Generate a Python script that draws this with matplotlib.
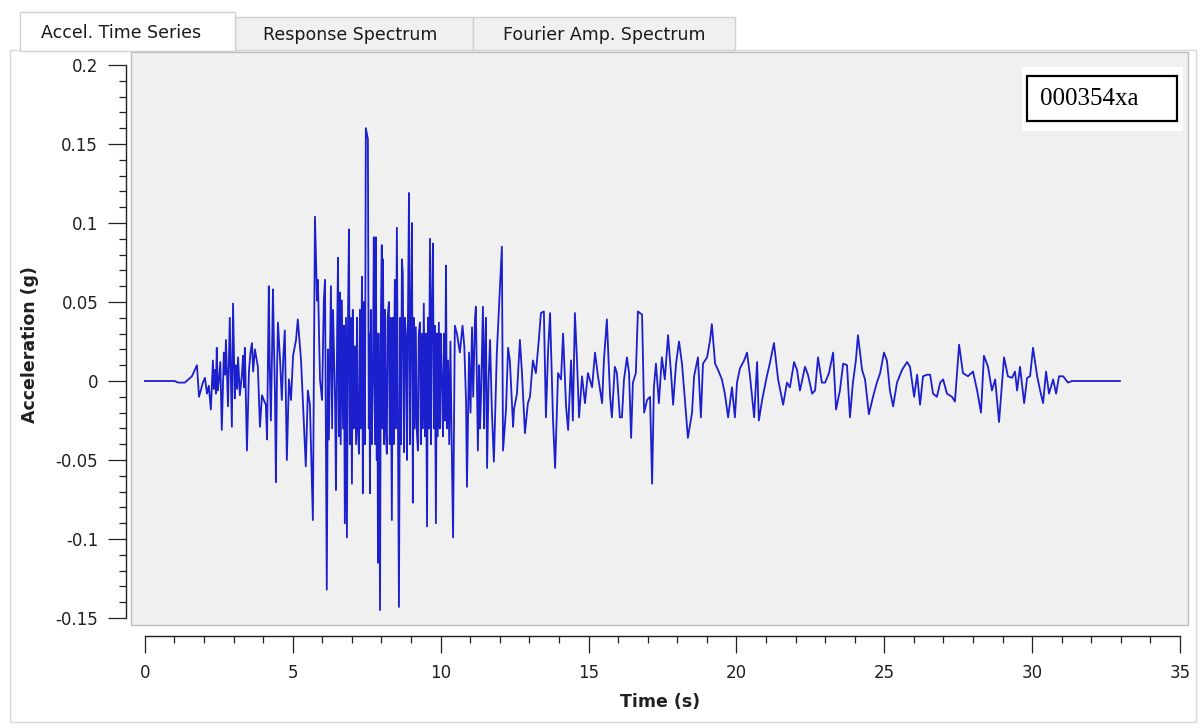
import matplotlib
matplotlib.use('Agg')
import matplotlib.pyplot as pl
from matplotlib.patches import Rectangle
from matplotlib.ticker import MultipleLocator
import numpy as np


# record 000354xa, (time s, accel g)
seg_onset = [
    (0.00, 0.000), (1.01, 0.000), (1.12, -0.001), (1.35, -0.001), (1.59, 0.003),
    (1.76, 0.010), (1.83, -0.010), (1.96, -0.001), (2.03, 0.002), (2.10, -0.008),
    (2.16, -0.003), (2.23, -0.018), (2.30, 0.013), (2.33, -0.005), (2.37, 0.007),
    (2.40, -0.008), (2.43, 0.021), (2.46, -0.006), (2.50, 0.000), (2.55, 0.012),
    (2.60, -0.031), (2.67, 0.018), (2.71, 0.004), (2.74, 0.026), (2.81, -0.016),
    (2.87, 0.040), (2.94, -0.029), (2.98, 0.049), (3.04, -0.011), (3.08, 0.010),
    (3.12, -0.005), (3.15, 0.015), (3.21, -0.009), (3.28, 0.004), (3.32, 0.016),
    (3.35, -0.004), (3.38, 0.021), (3.45, -0.044), (3.52, 0.007), (3.57, 0.018),
    (3.62, 0.024), (3.66, 0.006), (3.69, 0.013), (3.72, 0.020), (3.82, 0.009),
    (3.89, -0.029), (3.96, -0.009), (4.02, -0.012), (4.09, -0.015), (4.13, -0.037),
    (4.19, 0.060), (4.22, 0.010), (4.26, -0.025), (4.30, 0.020), (4.33, 0.058),
    (4.36, 0.026), (4.40, -0.010), (4.43, -0.064), (4.47, 0.010), (4.50, 0.037),
    (4.57, 0.013), (4.63, -0.012), (4.68, 0.015), (4.73, 0.032), (4.80, -0.050),
    (4.87, 0.001), (4.94, -0.012), (5.01, 0.016), (5.11, 0.026), (5.17, 0.039),
    (5.28, 0.013), (5.34, -0.012), (5.44, -0.054), (5.51, -0.006), (5.58, -0.015),
    (5.68, -0.088), (5.75, 0.104), (5.82, 0.051), (5.85, 0.064),
]

seg_strong = [
    (5.92, 0.001), (5.99, -0.012), (6.05, 0.051), (6.09, 0.064), (6.15, -0.132),
    (6.19, 0.020), (6.22, -0.037), (6.29, 0.060), (6.33, -0.030), (6.36, 0.045),
    (6.43, -0.012), (6.46, -0.069), (6.50, 0.030), (6.53, 0.078), (6.56, -0.035),
    (6.59, 0.056), (6.62, -0.040), (6.66, 0.051), (6.70, -0.030), (6.73, 0.035),
    (6.76, -0.090), (6.80, 0.040), (6.83, -0.099), (6.87, 0.045), (6.90, 0.096),
    (6.93, -0.040), (6.96, 0.040), (7.00, -0.065), (7.03, 0.045), (7.06, -0.030),
    (7.10, 0.022), (7.14, -0.040), (7.17, 0.040), (7.20, -0.030), (7.24, -0.046),
    (7.27, 0.045), (7.30, -0.030), (7.34, 0.066), (7.37, -0.071), (7.40, 0.050),
    (7.44, -0.040), (7.47, 0.160), (7.54, 0.153), (7.57, -0.030), (7.59, 0.030),
    (7.61, -0.071), (7.64, 0.045), (7.67, -0.040), (7.71, 0.005), (7.74, 0.091),
    (7.78, -0.040), (7.81, 0.091), (7.84, -0.050), (7.86, 0.030), (7.88, -0.115),
    (7.91, 0.030), (7.95, -0.145), (7.98, 0.040), (8.01, 0.086), (8.03, -0.030),
    (8.05, 0.077), (8.09, -0.040), (8.12, 0.045), (8.15, -0.030), (8.18, -0.046),
    (8.21, 0.040), (8.25, 0.050), (8.28, -0.040), (8.31, 0.040), (8.35, -0.088),
    (8.38, 0.040), (8.41, -0.040), (8.45, 0.064), (8.48, -0.030), (8.52, 0.097),
    (8.59, -0.143), (8.63, 0.040), (8.66, -0.040), (8.69, 0.077), (8.72, 0.068),
    (8.76, -0.045), (8.79, 0.040), (8.83, 0.028), (8.86, -0.050), (8.89, 0.030),
    (8.93, 0.119), (8.96, -0.040), (8.99, 0.030), (9.03, 0.100), (9.06, -0.077),
    (9.09, 0.040), (9.12, -0.030), (9.16, 0.034), (9.19, -0.030), (9.23, -0.044),
    (9.26, 0.030), (9.30, 0.037), (9.33, -0.040), (9.36, 0.030), (9.40, -0.030),
    (9.43, 0.049), (9.47, -0.035), (9.50, 0.030), (9.54, -0.092), (9.57, 0.040),
    (9.60, -0.030), (9.64, 0.090), (9.67, -0.040), (9.70, 0.040), (9.74, 0.087),
    (9.77, -0.030), (9.80, 0.035), (9.84, -0.090), (9.87, 0.030), (9.90, -0.035),
    (9.94, 0.037), (9.97, -0.030), (10.00, 0.030), (10.04, 0.001), (10.08, -0.035),
    (10.11, 0.030), (10.15, -0.025), (10.18, 0.073), (10.21, -0.030), (10.25, 0.013),
    (10.29, -0.040), (10.33, 0.025), (10.37, -0.035), (10.42, -0.099), (10.48, 0.035),
    (10.55, 0.030),
]

seg_mid = [
    (10.65, 0.018), (10.74, 0.035), (10.80, 0.022), (10.86, -0.014), (10.89, -0.067),
    (10.96, 0.018), (11.01, -0.020), (11.06, 0.034), (11.10, -0.010), (11.16, 0.039),
    (11.19, 0.047), (11.26, -0.044), (11.30, 0.010), (11.33, -0.030), (11.36, -0.014),
    (11.43, 0.047), (11.47, -0.030), (11.50, 0.020), (11.53, 0.040), (11.57, -0.055),
    (11.62, 0.000), (11.67, 0.026), (11.73, -0.018), (11.80, -0.051), (11.90, 0.018),
    (11.97, 0.045), (12.07, 0.085), (12.11, -0.044), (12.21, -0.018), (12.28, 0.021),
    (12.34, 0.013), (12.45, -0.029), (12.48, -0.018), (12.58, -0.008), (12.68, 0.026),
    (12.75, 0.005), (12.85, -0.033), (12.95, -0.014), (13.02, -0.010), (13.12, 0.013),
    (13.22, 0.005), (13.32, 0.026), (13.39, 0.043), (13.49, 0.044), (13.56, -0.023),
    (13.63, 0.018), (13.70, 0.043), (13.80, -0.025), (13.87, -0.055), (13.97, 0.005),
    (14.07, 0.001), (14.14, 0.030), (14.24, -0.016), (14.31, -0.031), (14.41, 0.013),
    (14.47, -0.025), (14.54, 0.043), (14.61, 0.013), (14.68, -0.023), (14.78, 0.003),
    (14.88, -0.014), (14.98, 0.005), (15.12, -0.004), (15.22, 0.018), (15.32, 0.003),
    (15.46, -0.014), (15.52, 0.013), (15.62, 0.039),
]

seg_late = [
    (15.73, -0.010), (15.79, -0.023), (15.89, 0.009), (15.96, 0.005), (16.06, -0.023),
    (16.13, -0.023), (16.20, 0.001), (16.30, 0.015), (16.37, 0.005), (16.44, -0.036),
    (16.50, -0.001), (16.60, 0.005), (16.67, 0.044), (16.81, 0.042), (16.88, -0.020),
    (16.98, -0.012), (17.08, -0.010), (17.15, -0.065), (17.21, -0.004), (17.28, 0.011),
    (17.38, -0.014), (17.48, 0.015), (17.58, 0.001), (17.69, 0.029), (17.79, 0.005),
    (17.86, -0.015), (17.96, 0.011), (18.06, 0.025), (18.16, 0.011), (18.26, -0.012),
    (18.36, -0.036), (18.50, -0.020), (18.57, 0.003), (18.70, 0.015), (18.80, -0.023),
    (18.87, 0.011), (19.01, 0.015), (19.11, 0.026), (19.17, 0.036), (19.28, 0.011),
    (19.38, 0.007), (19.51, 0.001), (19.61, -0.008), (19.72, -0.023), (19.85, -0.004),
    (19.95, -0.023), (20.02, -0.001), (20.12, 0.008), (20.26, 0.013), (20.36, 0.018),
    (20.46, 0.003), (20.60, -0.023), (20.70, 0.012), (20.76, -0.025), (20.87, -0.012),
    (21.03, 0.003), (21.14, 0.012),
]

seg_coda = [
    (21.27, 0.024), (21.41, 0.001), (21.58, -0.015), (21.71, -0.001), (21.81, -0.004),
    (21.95, 0.012), (22.05, 0.007), (22.15, -0.006), (22.32, 0.009), (22.42, 0.004),
    (22.56, -0.008), (22.66, -0.006), (22.76, 0.015), (22.89, -0.001), (23.00, -0.001),
    (23.13, 0.005), (23.27, 0.018), (23.37, -0.018), (23.50, -0.006), (23.61, 0.011),
    (23.74, 0.010), (23.84, -0.023), (23.94, -0.001), (24.04, 0.013), (24.11, 0.029),
    (24.25, 0.007), (24.35, 0.001), (24.48, -0.021), (24.62, -0.010), (24.75, -0.001),
    (24.86, 0.005), (24.99, 0.018), (25.09, 0.013), (25.19, -0.006), (25.30, -0.016),
    (25.43, -0.001), (25.60, 0.007), (25.77, 0.012), (25.87, 0.009), (26.01, -0.010),
    (26.11, 0.004), (26.21, -0.015), (26.31, 0.003), (26.45, 0.004), (26.55, 0.004),
    (26.65, -0.008), (26.78, -0.010), (26.89, -0.001), (26.99, 0.001), (27.12, -0.008),
    (27.29, -0.010), (27.39, -0.013), (27.53, 0.023), (27.66, 0.005), (27.83, 0.003),
    (28.00, 0.006), (28.14, -0.006), (28.27, -0.020), (28.37, 0.016), (28.51, 0.009),
    (28.64, -0.006), (28.75, 0.001), (28.88, -0.026), (29.05, 0.015), (29.18, 0.003),
    (29.32, 0.002), (29.42, 0.006), (29.49, -0.006), (29.59, 0.009), (29.73, -0.014),
    (29.83, 0.002), (29.93, 0.003), (30.03, 0.021), (30.17, 0.003), (30.27, -0.006),
    (30.37, -0.014), (30.47, 0.006), (30.57, -0.008), (30.71, 0.001), (30.81, -0.008),
    (30.91, 0.003), (31.05, 0.003), (31.21, -0.001), (31.35, 0.000), (32.97, 0.000),
]

tabs = ['Accel. Time Series', 'Response Spectrum', 'Fourier Amp. Spectrum']
yticks = [-0.15, -0.1, -0.05, 0, 0.05, 0.1, 0.15, 0.2]
yticklabels = ['-0.15', '-0.1', '-0.05', '0', '0.05', '0.1', '0.15', '0.2']
xticks = [0, 5, 10, 15, 20, 25, 30, 35]
record_id = '000354xa'


rows = seg_onset + seg_strong + seg_mid + seg_late + seg_coda
t = np.array([r[0] for r in rows])
acc = np.array([r[1] for r in rows])

W, H = 1203, 728
fig = pl.figure(figsize=(W/100., H/100.), dpi=100)
fig.patch.set_facecolor('white')


def box(x0, y0, x1, y1, **kw):
    # rectangle given in screen pixels (top-left origin)
    r = Rectangle((x0/W, 1-y1/H), (x1-x0)/W, (y1-y0)/H,
                  transform=fig.transFigure, **kw)
    fig.add_artist(r)
    return r


# window panel + tab strip
box(10, 50, 1196, 722, facecolor='white', edgecolor='#d6d6d6', lw=1, zorder=-2)
box(235, 17, 473, 50, facecolor='#f0f0f0', edgecolor='#d0d0d0', lw=1, zorder=1)
box(473, 17, 735, 50, facecolor='#f0f0f0', edgecolor='#d0d0d0', lw=1, zorder=1)
box(20, 12, 235, 51, facecolor='white', edgecolor='#d0d0d0', lw=1, zorder=2)
tab_x = [121, 350, 604]
tab_y = [33, 35, 35]
for lab, tx, ty in zip(tabs, tab_x, tab_y):
    fig.text(tx/W, 1-ty/H, lab, ha='center', va='center', fontsize=12.5,
             color='#1a1a1a', zorder=3)


ax = fig.add_axes([131./W, 1-625./H, (1188.-131)/W, (625.-52)/H])
ax.set_facecolor('#f0f0f0')
ax.plot(t, acc, color='#1c1fcc', lw=1.3)

ax.set_xlim(-0.47, 35.27)
ax.set_ylim(-0.1544, 0.2082)

ax.spines['top'].set_visible(False)
ax.spines['right'].set_visible(False)
ax.spines['left'].set_position(('outward', 3.6))
ax.spines['bottom'].set_position(('outward', 7.9))
ax.spines['left'].set_bounds(-0.15, 0.2)
ax.spines['bottom'].set_bounds(0, 35)
for s in ['left', 'bottom']:
    ax.spines[s].set_linewidth(1.0)
    ax.spines[s].set_color('#202020')

# thin frame round the grey plot area
ax.add_patch(Rectangle((0, 0), 1, 1, transform=ax.transAxes, fill=False,
                       edgecolor='#bdbdbd', lw=1.0, clip_on=False))

ax.set_yticks(yticks)
ax.set_yticklabels(yticklabels)
ax.set_xticks(xticks)
ax.yaxis.set_minor_locator(MultipleLocator(0.01))
ax.xaxis.set_minor_locator(MultipleLocator(1))
ax.tick_params(axis='y', which='major', length=13, width=0.9, pad=7,
               labelsize=12, colors='#202020')
ax.tick_params(axis='y', which='minor', length=5, width=0.9, colors='#202020')
ax.tick_params(axis='x', which='major', length=12, width=0.9, pad=8,
               labelsize=12, colors='#202020')
ax.tick_params(axis='x', which='minor', length=5, width=0.9, colors='#202020')

fig.text(30./W, 1-345./H, 'Acceleration (g)', rotation=90, ha='center',
         va='center', fontsize=12.5, fontweight='bold', color='#202020')
fig.text(660./W, 1-702./H, 'Time (s)', ha='center', va='center',
         fontsize=12.5, fontweight='bold', color='#202020')

# record id box
box(1022, 67, 1183, 131, facecolor='white', edgecolor='none', zorder=4)
box(1027, 76, 1177, 121, facecolor='white', edgecolor='black', lw=1.6, zorder=5)
fig.text(1040./W, 1-99./H, record_id, ha='left', va='center', fontsize=18,
         family='Liberation Serif', color='black', zorder=6)

pl.savefig('out.png', dpi=100)
